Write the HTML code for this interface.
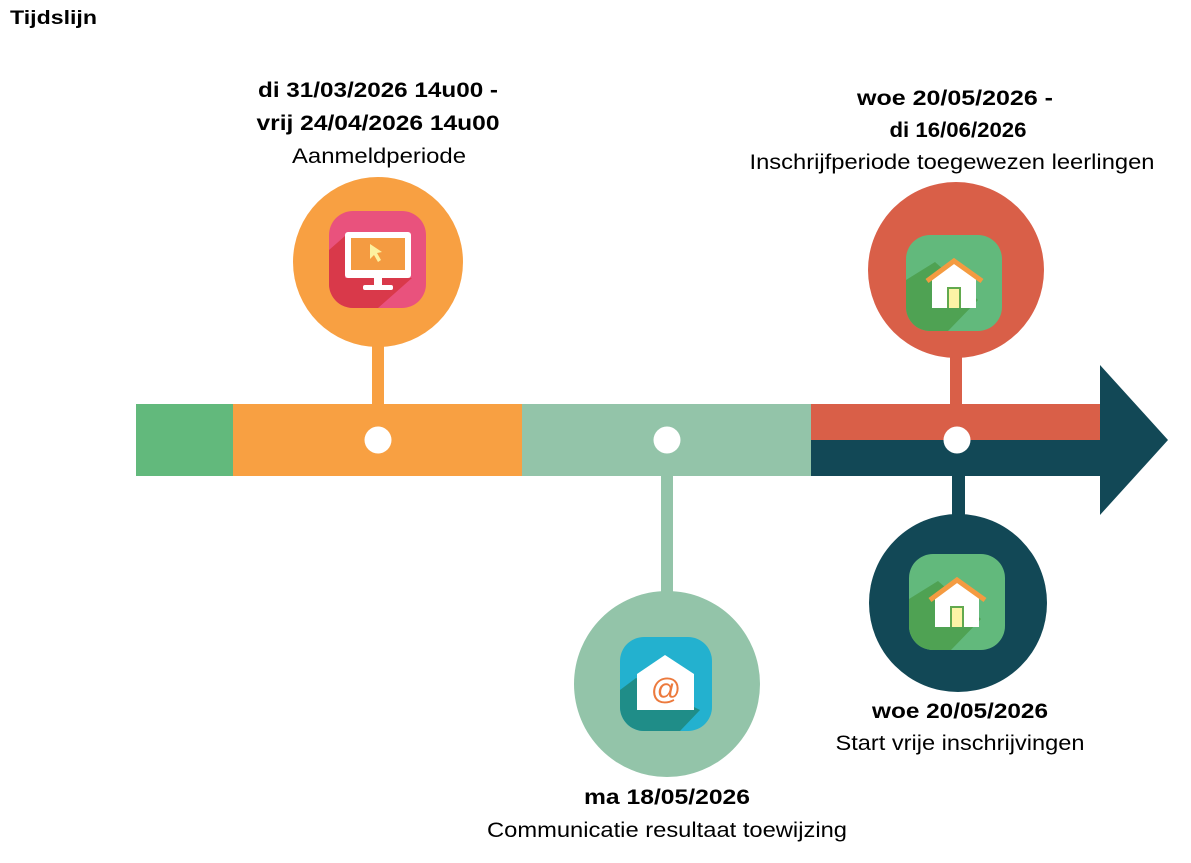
<!DOCTYPE html>
<html><head><style>
body{margin:0;background:#fff;}
svg{display:block}
text{font-family:"Liberation Sans",sans-serif;}
</style></head><body>
<svg width="1191" height="863" viewBox="0 0 1191 863" xmlns="http://www.w3.org/2000/svg">
<text x="10" y="24" font-size="19" font-weight="bold" fill="#000" textLength="87" lengthAdjust="spacingAndGlyphs">Tijdslijn</text>
<!-- bar -->
<rect x="136" y="404" width="98" height="72" fill="#62b97c"/>
<rect x="233" y="404" width="290" height="72" fill="#f8a042"/>
<rect x="522" y="404" width="290" height="72" fill="#93c4a9"/>
<rect x="811" y="404" width="290" height="36" fill="#d95f48"/>
<rect x="811" y="440" width="290" height="36" fill="#124856"/>
<polygon points="1100,365 1168,440 1100,515" fill="#124856"/>
<!-- stems -->
<rect x="372" y="340" width="12" height="66" fill="#f8a042"/>
<rect x="950" y="355" width="12" height="51" fill="#d95f48"/>
<rect x="952" y="474" width="13" height="45" fill="#124856"/>
<rect x="661" y="474" width="12" height="122" fill="#93c4a9"/>
<!-- dots -->
<circle cx="378" cy="440" r="13.5" fill="#fff"/>
<circle cx="667" cy="440" r="13.5" fill="#fff"/>
<circle cx="957" cy="440" r="13.5" fill="#fff"/>
<!-- circles -->
<circle cx="378" cy="262" r="85" fill="#f8a042"/>
<circle cx="956" cy="270" r="88" fill="#d95f48"/>
<circle cx="958" cy="603" r="89" fill="#124856"/>
<circle cx="667" cy="684" r="93" fill="#93c4a9"/>
<defs>
<clipPath id="c1"><rect x="329" y="211" width="97" height="97" rx="24"/></clipPath>
<clipPath id="c2"><rect x="906" y="235" width="96" height="96" rx="24"/></clipPath>
<clipPath id="c3"><rect x="909" y="554" width="96" height="96" rx="24"/></clipPath>
<clipPath id="c4"><rect x="620" y="637" width="92" height="94" rx="24"/></clipPath>
</defs>
<g clip-path="url(#c1)">
<rect x="329" y="211" width="97" height="97" fill="#e9527d"/>
<polygon points="329,250 345,236 345,278 412,278 378,308 329,308" fill="#d9394a"/>
<rect x="345" y="232" width="66" height="46" rx="3" fill="#fff"/>
<rect x="351" y="238" width="54" height="32" fill="#f49b41"/>
<rect x="374" y="276" width="8" height="10" fill="#fff"/>
<rect x="363" y="285" width="30" height="5" rx="2" fill="#fff"/>
<polygon points="370,244 370,259 374,255 378,262 381,260 377,253 382,252" fill="#fcf1a0"/>
</g>
<g clip-path="url(#c2)">
<rect x="906" y="235" width="96" height="96" fill="#62b97c"/>
<polygon points="906,280 935,262 978,300 948,331 906,331" fill="#4fa253"/>
<polygon points="932,278 954,262 976,278 976,308 932,308" fill="#fff"/>
<polyline points="927,281 954,261 982,281" fill="none" stroke="#f49b41" stroke-width="5"/>
<rect x="947" y="287" width="14" height="21" fill="#62a94e"/>
<rect x="949" y="289" width="10" height="19" fill="#fcf3a6"/>
</g>
<g clip-path="url(#c3)">
<rect x="909" y="554" width="96" height="96" fill="#62b97c"/>
<polygon points="909,599 938,581 981,619 951,650 909,650" fill="#4fa253"/>
<polygon points="935,597 957,581 979,597 979,627 935,627" fill="#fff"/>
<polyline points="930,600 957,580 985,600" fill="none" stroke="#f49b41" stroke-width="5"/>
<rect x="950" y="606" width="14" height="21" fill="#62a94e"/>
<rect x="952" y="608" width="10" height="19" fill="#fcf3a6"/>
</g>
<g clip-path="url(#c4)">
<rect x="620" y="637" width="92" height="94" fill="#23b1cf"/>
<polygon points="620,690 636,678 700,710 680,731 620,731" fill="#1f8d88"/>
<polygon points="637,674 665,655 694,674 694,710 637,710" fill="#fff"/>
<text x="666" y="699" font-size="30" text-anchor="middle" fill="#ec7a3d">@</text>
</g>
<g font-size="21" text-anchor="middle" fill="#000" lengthAdjust="spacingAndGlyphs">
<text x="378" y="97" font-weight="bold" textLength="240" lengthAdjust="spacingAndGlyphs">di 31/03/2026 14u00 -</text>
<text x="378" y="130" font-weight="bold" textLength="243" lengthAdjust="spacingAndGlyphs">vrij 24/04/2026 14u00</text>
<text x="379" y="163" textLength="174" lengthAdjust="spacingAndGlyphs">Aanmeldperiode</text>
<text x="955" y="105" font-weight="bold" textLength="196" lengthAdjust="spacingAndGlyphs">woe 20/05/2026 -</text>
<text x="958" y="137" font-weight="bold" textLength="137" lengthAdjust="spacingAndGlyphs">di 16/06/2026</text>
<text x="952" y="169" textLength="405" lengthAdjust="spacingAndGlyphs">Inschrijfperiode toegewezen leerlingen</text>
<text x="960" y="718" font-weight="bold" textLength="176" lengthAdjust="spacingAndGlyphs">woe 20/05/2026</text>
<text x="960" y="750" textLength="249" lengthAdjust="spacingAndGlyphs">Start vrije inschrijvingen</text>
<text x="667" y="804" font-weight="bold" textLength="166" lengthAdjust="spacingAndGlyphs">ma 18/05/2026</text>
<text x="667" y="837" textLength="360" lengthAdjust="spacingAndGlyphs">Communicatie resultaat toewijzing</text>
</g>
</svg>
</body></html>
